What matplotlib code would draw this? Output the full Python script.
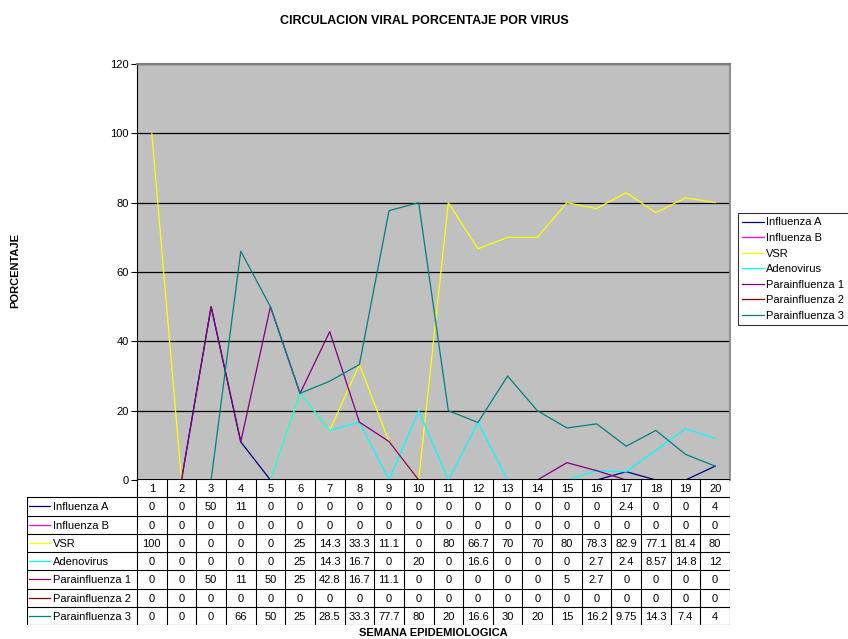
import matplotlib
matplotlib.use("Agg")
import matplotlib.pyplot as plt

plt.rcParams['font.family'] = ['Liberation Sans', 'DejaVu Sans']

semanas = list(range(1, 21))
influenza_a = [0, 0, 50, 11, 0, 0, 0, 0, 0, 0, 0, 0, 0, 0, 0, 0, 2.4, 0, 0, 4]
influenza_b = [0] * 20
vsr = [100, 0, 0, 0, 0, 25, 14.3, 33.3, 11.1, 0, 80, 66.7, 70, 70, 80, 78.3, 82.9, 77.1, 81.4, 80]
adenovirus = [0, 0, 0, 0, 0, 25, 14.3, 16.7, 0, 20, 0, 16.6, 0, 0, 0, 2.7, 2.4, 8.57, 14.8, 12]
parainf_1 = [0, 0, 50, 11, 50, 25, 42.8, 16.7, 11.1, 0, 0, 0, 0, 0, 5, 2.7, 0, 0, 0, 0]
parainf_2 = [0] * 20
parainf_3 = [0, 0, 0, 66, 50, 25, 28.5, 33.3, 77.7, 80, 20, 16.6, 30, 20, 15, 16.2, 9.75, 14.3, 7.4, 4]

nombres = ["Influenza A", "Influenza B", "VSR", "Adenovirus",
           "Parainfluenza 1", "Parainfluenza 2", "Parainfluenza 3"]
series = [influenza_a, influenza_b, vsr, adenovirus, parainf_1, parainf_2, parainf_3]
colores = ["#000080", "#FF00FF", "#FFFF00", "#00FFFF", "#800080", "#800000", "#008080"]

W, H = 848, 639
fig = plt.figure(figsize=(W / 100, H / 100), dpi=100)

def caja(x0, y0, x1, y1):
    # pixel box -> figure fraction rect
    return [x0 / W, 1 - y1 / H, (x1 - x0) / W, (y1 - y0) / H]

ax = fig.add_axes(caja(137, 64, 730, 480))
ax.set_facecolor("#C0C0C0")
for nombre, datos, color in zip(nombres, series, colores):
    ax.plot(semanas, datos, color=color, lw=0.9, label=nombre)
ax.set_xlim(0.5, 20.5)
ax.set_ylim(0, 120)
ax.set_yticks(range(0, 121, 20))
ax.set_xticks([])
ax.yaxis.grid(True, color="black", lw=0.9)
ax.set_axisbelow(True)
ax.tick_params(axis="y", labelsize=8, length=4, width=0.8, pad=2)
ax.spines["left"].set_color("black")
ax.spines["top"].set_color("#808080")
ax.spines["top"].set_linewidth(1.6)
ax.spines["right"].set_color("#808080")
ax.spines["right"].set_linewidth(1.2)
ax.spines["bottom"].set_visible(False)

fig.text(424 / W, 1 - 21 / H, "CIRCULACION VIRAL PORCENTAJE POR VIRUS",
         ha="center", va="center", fontsize=9, fontweight="bold")
fig.text(15 / W, 1 - 271 / H, "PORCENTAJE", rotation=90,
         ha="center", va="center", fontsize=8, fontweight="bold")
fig.text(433 / W, 1 - 633 / H, "SEMANA EPIDEMIOLOGICA",
         ha="center", va="center", fontsize=8, fontweight="bold")

leg = fig.legend(loc="upper left", bbox_to_anchor=(738 / W, 1 - 213 / H),
                 fontsize=8, frameon=True, fancybox=False, borderpad=0.4,
                 handlelength=1.9, handletextpad=0.25, labelspacing=0.5,
                 borderaxespad=0)
leg.get_frame().set_edgecolor("black")
leg.get_frame().set_linewidth(0.8)

# data table under the plot
tx0 = 27
col = (730 - 137) / 20.0
izq = 0.5 - (137 - tx0) / col
tab = fig.add_axes(caja(tx0, 479, 730, 625))
tab.set_xlim(izq, 20.5)
tab.set_ylim(8, 0)
tab.axis("off")

filas = len(series) + 1
for i in range(21):
    x = 0.5 + i
    tab.plot([x, x], [0, filas], color="black", lw=0.8)
for j in range(filas + 1):
    x_ini = izq if j >= 1 else 0.5
    tab.plot([x_ini, 20.5], [j, j], color="black", lw=0.8)
tab.plot([izq, izq], [1, filas], color="black", lw=0.8)

for i, s in enumerate(semanas):
    tab.text(s, 0.55, str(s), ha="center", va="center", fontsize=8)

for j, (nombre, datos, color) in enumerate(zip(nombres, series, colores)):
    y = j + 1.55
    tab.plot([izq + 0.07, izq + 0.78], [y - 0.05, y - 0.05], color=color, lw=0.9)
    tab.text(izq + 0.88, y, nombre, ha="left", va="center", fontsize=8)
    for s, v in zip(semanas, datos):
        tab.text(s, y, f"{v:g}", ha="center", va="center", fontsize=8)

fig.savefig("out.png", dpi=100)
